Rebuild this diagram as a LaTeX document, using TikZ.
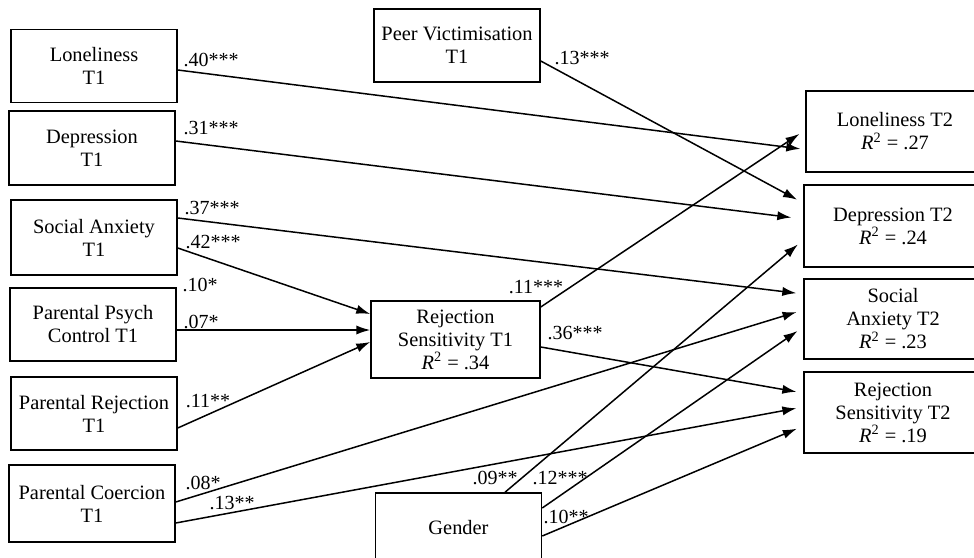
\documentclass[tikz,border=0pt]{standalone}
\usepackage{fontspec}
\setmainfont{Liberation Serif}
\usetikzlibrary{arrows.meta}

\begin{document}
\begin{tikzpicture}[x = .5pt, y = -.5pt, line width = .75pt,
    box/.style = {draw, align = center, minimum width = 83pt, minimum height = 36.5pt,
      inner sep = 1pt, font = \fontsize{10.2}{11.5}\selectfont},
    outbox/.style = {box, minimum width = 89pt, minimum height = 40.5pt},
    lbl/.style = {inner sep = 0pt, font = \fontsize{10}{11}\selectfont},
    to2/.style = {->, shorten > = 3.5pt},
    > = {Latex[length = 7pt, width = 4.6pt]}]
      \useasboundingbox (0,0) rectangle (974,557);
      % predictors, T1
      \node [box] (lon1) at (94,66) {Loneliness\\T1};
      \node [box, minimum height = 37pt] (dep1) at (92,148) {Depression\\T1};
      \node [box, minimum height = 37.5pt] (soc1) at (94,237.5) {Social Anxiety\\T1};
      \node [box] (psy1) at (93,324.5) {Parental Psych\\Control T1};
      \node [box] (rej1) at (94,413.5) {Parental Rejection\\T1};
      \node [box, minimum height = 38.5pt] (coe1) at (92,503.5) {Parental Coercion\\T1};
      \node [box] (peer) at (457,45.5) {Peer Victimisation\\T1};
      \node [box, minimum width = 84.5pt, minimum height = 38.5pt] (rs1) at (455.5,339.5)
        {Rejection\\Sensitivity T1\\\textit{R}\textsuperscript{2} = .34};
      \node [box, minimum height = 35pt] (gen) at (458.5,528) {Gender};
      % outcomes, T2
      \node [outbox] (lon2) at (895,131.5) {Loneliness T2\\\textit{R}\textsuperscript{2} = .27};
      \node [outbox, minimum height = 41pt] (dep2) at (893,226) {Depression T2\\\textit{R}\textsuperscript{2} = .24};
      \node [outbox, minimum height = 40pt] (soc2) at (893,319) {Social\\Anxiety T2\\\textit{R}\textsuperscript{2} = .23};
      \node [outbox] (rs2) at (893,412.5) {Rejection\\Sensitivity T2\\\textit{R}\textsuperscript{2} = .19};
      % paths
      \draw [to2, shorten > = 2.5pt] ([yshift = -2pt]lon1.east) -- ([yshift = -9pt]lon2.west);
      \draw [to2, shorten > = 6pt] ([yshift = 3.5pt]dep1.east) -- ([yshift = 3.5pt]dep2.west);
      \draw [to2] ([yshift = 9.75pt]soc1.east) -- ([yshift = 12.5pt]soc2.west);
      \draw [->] ([yshift = -5.25pt]soc1.east) -- ([yshift = 12.75pt]rs1.west);
      \draw [->] ([yshift = -2.75pt]psy1.east) -- ([yshift = 4.75pt]rs1.west);
      \draw [->] ([yshift = -7.25pt]rej1.east) -- ([yshift = -1.25pt]rs1.west);
      \draw [to2] ([yshift = .75pt]coe1.east) -- ([yshift = 4.5pt]soc2.west);
      \draw [to2] ([yshift = -9.75pt]coe1.east) -- ([yshift = 2.75pt]rs2.west);
      \draw [to2] ([yshift = -7.75pt]peer.east) -- ([yshift = 11.5pt]dep2.west);
      \draw [to2] ([yshift = 16.25pt]rs1.east) -- ([yshift = .75pt]lon2.west);
      \draw [to2] ([yshift = -3.75pt]rs1.east) -- ([yshift = 9.75pt]rs2.west);
      \draw [to2] ([xshift = 23.25pt]gen.north) -- ([yshift = -7pt]dep2.west);
      \draw [to2] ([yshift = 10pt]gen.east) -- ([yshift = -4pt]soc2.west);
      \draw [to2] ([yshift = -4pt]gen.east) -- ([yshift = -6.75pt]rs2.west);
      % coefficients
      \node [lbl] at (211,60) {.40***};
      \node [lbl] at (211,128) {.31***};
      \node [lbl] at (212,208) {.37***};
      \node [lbl] at (213,242) {.42***};
      \node [lbl] at (200,285) {.10*};
      \node [lbl] at (201,322) {.07*};
      \node [lbl] at (208,401) {.11**};
      \node [lbl] at (203,483) {.08*};
      \node [lbl] at (232,503) {.13**};
      \node [lbl] at (582,58) {.13***};
      \node [lbl] at (536,287) {.11***};
      \node [lbl] at (575,333) {.36***};
      \node [lbl] at (495,478) {.09**};
      \node [lbl] at (560,478) {.12***};
      \node [lbl] at (566,517) {.10**};
    \end{tikzpicture}
\end{document}
